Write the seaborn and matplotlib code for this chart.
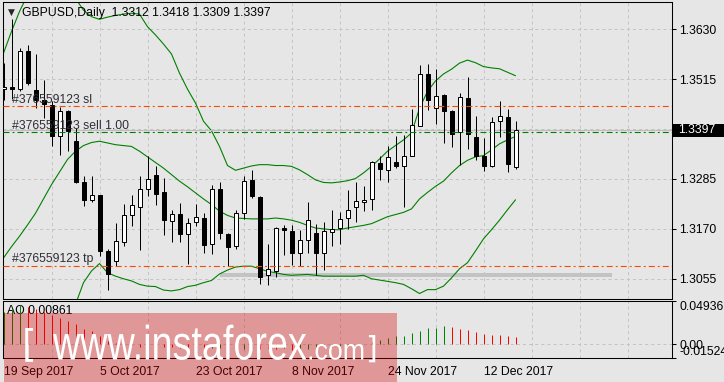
import numpy as np
import pandas as pd
import matplotlib
matplotlib.use("Agg")
import matplotlib.pyplot as plt
import matplotlib.transforms as mtransforms
from matplotlib.transforms import Affine2D
from matplotlib.patches import Rectangle
from matplotlib.patheffects import AbstractPathEffect
from matplotlib import font_manager
import seaborn as sns

# ---------------- data ----------------
chart_title = "GBPUSD,Daily  1.3312 1.3418 1.3309 1.3397"
opens = [1.3492, 1.3497, 1.3492, 1.3580, 1.3490, 1.3467, 1.3456, 1.3383, 1.3441, 1.3373,
         1.3277, 1.3236, 1.3247, 1.3119, 1.3096, 1.3139, 1.3203, 1.3221, 1.3262, 1.3295,
         1.3254, 1.3189, 1.3204, 1.3158, 1.3186, 1.3195, 1.3135, 1.3262, 1.3158, 1.3130,
         1.3207, 1.3283, 1.3244, 1.3063, 1.3073, 1.3172, 1.3166, 1.3115, 1.3145, 1.3161,
         1.3115, 1.3163, 1.3172, 1.3195, 1.3221, 1.3232, 1.3239, 1.3322, 1.3305, 1.3323,
         1.3314, 1.3339, 1.3406, 1.3527, 1.3448, 1.3479, 1.3442, 1.3393, 1.3471, 1.3381,
         1.3339, 1.3314, 1.3418, 1.3428, 1.3312]
highs = [1.3552, 1.3654, 1.3588, 1.3594, 1.3572, 1.3513, 1.3464, 1.3452, 1.3444, 1.3402,
         1.3291, 1.3293, 1.3249, 1.3124, 1.3184, 1.3228, 1.3249, 1.3291, 1.3337, 1.3314,
         1.3287, 1.3214, 1.3230, 1.3195, 1.3228, 1.3207, 1.3272, 1.3277, 1.3161, 1.3214,
         1.3291, 1.3306, 1.3245, 1.3135, 1.3174, 1.3180, 1.3178, 1.3168, 1.3231, 1.3182,
         1.3185, 1.3213, 1.3210, 1.3260, 1.3279, 1.3268, 1.3326, 1.3337, 1.3360, 1.3383,
         1.3387, 1.3447, 1.3548, 1.3550, 1.3539, 1.3481, 1.3444, 1.3483, 1.3520, 1.3431,
         1.3379, 1.3428, 1.3465, 1.3446, 1.3418]
lows = [1.3467, 1.3469, 1.3487, 1.3502, 1.3448, 1.3425, 1.3362, 1.3341, 1.3349, 1.3276,
        1.3222, 1.3232, 1.3107, 1.3029, 1.3084, 1.3130, 1.3176, 1.3122, 1.3245, 1.3226,
        1.3157, 1.3139, 1.3139, 1.3088, 1.3176, 1.3115, 1.3111, 1.3147, 1.3084, 1.3124,
        1.3193, 1.3240, 1.3043, 1.3040, 1.3059, 1.3109, 1.3086, 1.3084, 1.3115, 1.3063,
        1.3076, 1.3130, 1.3134, 1.3170, 1.3185, 1.3211, 1.3213, 1.3283, 1.3277, 1.3310,
        1.3221, 1.3337, 1.3406, 1.3444, 1.3412, 1.3369, 1.3358, 1.3318, 1.3355, 1.3329,
        1.3303, 1.3312, 1.3382, 1.3300, 1.3309]
closes = [1.3497, 1.3492, 1.3580, 1.3507, 1.3467, 1.3457, 1.3383, 1.3442, 1.3395, 1.3277,
          1.3236, 1.3249, 1.3119, 1.3067, 1.3143, 1.3203, 1.3224, 1.3262, 1.3285, 1.3250,
          1.3190, 1.3204, 1.3158, 1.3184, 1.3198, 1.3132, 1.3262, 1.3161, 1.3128, 1.3207,
          1.3281, 1.3245, 1.3060, 1.3078, 1.3172, 1.3167, 1.3115, 1.3145, 1.3191, 1.3115,
          1.3166, 1.3170, 1.3193, 1.3213, 1.3235, 1.3237, 1.3324, 1.3308, 1.3336, 1.3316,
          1.3339, 1.3410, 1.3527, 1.3466, 1.3477, 1.3441, 1.3389, 1.3474, 1.3389, 1.3337,
          1.3316, 1.3416, 1.3431, 1.3319, 1.3397]
bb_upper = [1.3575, 1.3625, 1.3671, 1.3709, 1.3728, 1.3740, 1.3743, 1.3736, 1.3720, 1.3701,
            1.3674, 1.3659, 1.3653, 1.3658, 1.3662, 1.3665, 1.3667, 1.3665, 1.3636, 1.3617,
            1.3596, 1.3573, 1.3529, 1.3492, 1.3460, 1.3418, 1.3396, 1.3360, 1.3316, 1.3305,
            1.3310, 1.3315, 1.3318, 1.3318, 1.3316, 1.3316, 1.3314, 1.3306, 1.3295, 1.3283,
            1.3277, 1.3276, 1.3278, 1.3281, 1.3286, 1.3299, 1.3314, 1.3331, 1.3349, 1.3362,
            1.3375, 1.3391, 1.3448, 1.3487, 1.3511, 1.3527, 1.3538, 1.3552, 1.3559, 1.3553,
            1.3544, 1.3541, 1.3539, 1.3531, 1.3523]
bb_middle = [1.3103, 1.3129, 1.3153, 1.3179, 1.3206, 1.3239, 1.3272, 1.3301, 1.3330, 1.3349,
             1.3362, 1.3369, 1.3372, 1.3368, 1.3364, 1.3362, 1.3360, 1.3349, 1.3336, 1.3323,
             1.3310, 1.3295, 1.3280, 1.3267, 1.3253, 1.3239, 1.3226, 1.3211, 1.3201, 1.3195,
             1.3194, 1.3193, 1.3193, 1.3193, 1.3195, 1.3193, 1.3190, 1.3185, 1.3178, 1.3172,
             1.3170, 1.3168, 1.3168, 1.3172, 1.3175, 1.3178, 1.3182, 1.3190, 1.3198, 1.3203,
             1.3208, 1.3216, 1.3239, 1.3254, 1.3268, 1.3280, 1.3299, 1.3316, 1.3328, 1.3336,
             1.3339, 1.3352, 1.3366, 1.3375, 1.3383]
bb_lower = [1.2632, 1.2628, 1.2636, 1.2649, 1.2684, 1.2738, 1.2800, 1.2866, 1.2940, 1.2996,
            1.3046, 1.3073, 1.3090, 1.3069, 1.3061, 1.3055, 1.3050, 1.3042, 1.3038, 1.3037,
            1.3029, 1.3027, 1.3030, 1.3037, 1.3040, 1.3046, 1.3051, 1.3066, 1.3075, 1.3082,
            1.3084, 1.3084, 1.3078, 1.3072, 1.3069, 1.3065, 1.3063, 1.3064, 1.3065, 1.3063,
            1.3061, 1.3061, 1.3061, 1.3061, 1.3061, 1.3063, 1.3055, 1.3052, 1.3049, 1.3046,
            1.3042, 1.3032, 1.3021, 1.3030, 1.3030, 1.3038, 1.3057, 1.3078, 1.3092, 1.3119,
            1.3147, 1.3168, 1.3190, 1.3214, 1.3237]
ao_values = [0.0368, 0.0398, 0.0443, 0.0428, 0.0398, 0.0368, 0.0331, 0.0293, 0.0267, 0.0229,
             0.0180, 0.0154, 0.0090, 0.0040, 0.0020, 0.0008, -0.0010, -0.0030, -0.0022, -0.0015,
             -0.0025, -0.0030, -0.0040, -0.0048, -0.0042, -0.0050, -0.0045, -0.0038, -0.0045, -0.0052,
             -0.0046, -0.0040, -0.0048, -0.0053, -0.0055, -0.0045, -0.0060, -0.0052, -0.0048, -0.0042,
             -0.0035, -0.0030, -0.0020, -0.0008, 0.0004, 0.0011, 0.0023, 0.0053, 0.0068, 0.0090,
             0.0098, 0.0124, 0.0147, 0.0184, 0.0190, 0.0210, 0.0199, 0.0177, 0.0165, 0.0143,
             0.0120, 0.0110, 0.0102, 0.0093, 0.00861]
ao_label = "AO 0.00861"
date_labels = ["19 Sep 2017", "5 Oct 2017", "23 Oct 2017", "8 Nov 2017", "24 Nov 2017", "12 Dec 2017"]
date_label_bars = [0, 12, 24, 36, 48, 60]
price_ticks = [1.3055, 1.3170, 1.3285, 1.3400, 1.3515, 1.3630]
price_tick_labels = ["1.3055", "1.3170", "1.3285", "", "1.3515", "1.3630"]
ao_ticks = [-0.01524, 0.0, 0.04936]
ao_tick_labels = ["-0.01524", "0.00", "0.04936"]
order_id = "#376559123"
sl_price = 1.3453
sell_price = 1.3393
tp_price = 1.3085
bid_price = 1.3397
bid_label = "1.3397"
zone_start, zone_end = 27, 76
zone_low, zone_high = 1.3059, 1.3069
watermark_main, watermark_tail = "www.instaforex", ".com"

# ---------------- style ----------------
BG = "#E6E6E6"
sns.set_style("white")
plt.rcParams["font.family"] = ["Liberation Sans", "DejaVu Sans"]
plt.rcParams["lines.scale_dashes"] = False
plt.rcParams["axes.linewidth"] = 0.75
FS = 8.8
PX = 0.72  # one pixel in points at 100 dpi


class VStretch(AbstractPathEffect):
    """Stretch glyphs vertically around their baseline (text stays a Text artist)."""

    def __init__(self, sy):
        super().__init__()
        self.sy = sy

    def draw_path(self, renderer, gc, tpath, affine, rgbFace=None):
        m = affine.get_matrix()
        tx, ty = m[0, 2], m[1, 2]
        extra = Affine2D().translate(-tx, -ty).scale(1.0, self.sy).translate(tx, ty)
        renderer.draw_path(gc, tpath, affine + extra, rgbFace)


W, H = 724, 382
fig = plt.figure(figsize=(W / 100, H / 100), dpi=100, facecolor=BG)
ax = fig.add_axes([2.5 / W, 83.5 / H, 669 / W, 296.5 / H], facecolor=BG)
ax2 = fig.add_axes([2.5 / W, 24 / H, 669 / W, 57.3 / H], facecolor=BG)

n = len(opens)
df = pd.DataFrame({"bar": np.arange(n), "open": opens, "high": highs, "low": lows, "close": closes,
                   "upper": bb_upper, "middle": bb_middle, "lower": bb_lower, "ao": ao_values})

grid_kw = dict(color="#C4C4C4", linewidth=PX, linestyle=(0, (2.2, 2.2)))
# bars land on pixel centres (8 px per bar) so 1-px lines stay crisp
xmin = -0.125
xmax = xmin + 669 / 8

# ---------------- main panel ----------------
ax.set_xlim(xmin, xmax)
ax.set_ylim(1.30095, 1.36929)
ax.set_xticks(np.arange(6, 84, 6))
ax.tick_params(axis="x", length=0, labelbottom=False)
ax.grid(True, axis="both", **grid_kw)
ax.set_axisbelow(True)
ax.yaxis.tick_right()
ax.set_yticks(price_ticks)
ax.set_yticklabels(price_tick_labels)
ax.tick_params(axis="y", length=3, width=0.75, pad=2.5, labelsize=FS, colors="black")
for s in ax.spines.values():
    s.set_color("black")
    s.set_linewidth(0.75)

# gray zone
ax.fill_between([zone_start, zone_end], zone_low, zone_high, color="#C3C3C3", lw=0, zorder=1)

# bollinger bands
for col in ["upper", "middle", "lower"]:
    sns.lineplot(data=df, x="bar", y=col, ax=ax, color="#008000", linewidth=0.8, legend=False, zorder=2)
ax.set_xlabel("")
ax.set_ylabel("")

# candles
up = df["close"] >= df["open"]
ax.vlines(df["bar"], df["low"], df["high"], color="black", linewidth=PX, zorder=3)
body_h = (df["close"] - df["open"]).abs().clip(lower=0.00002)
body_b = np.minimum(df["open"], df["close"])
ax.bar(df["bar"], body_h, bottom=body_b, width=0.5,
       color=np.where(up, "white", "black"), edgecolor="black", linewidth=PX, zorder=4)

# order / price lines
dashdot = (0, (4.3, 2.2, 1.4, 2.2))
ax.axhline(bid_price, color="#BDBDBD", linewidth=0.8, zorder=2)
ax.axhline(sl_price, color="#FF4500", linewidth=0.8, linestyle=dashdot, zorder=5)
ax.axhline(tp_price, color="#FF4500", linewidth=0.8, linestyle=dashdot, zorder=5)
ax.axhline(sell_price, color="#008000", linewidth=0.8, linestyle=dashdot, zorder=5)

blend = mtransforms.blended_transform_factory(ax.transAxes, ax.transData)
lab_x = (12 - 2.5) / 669
for price, txt in [(sl_price, order_id + " sl"), (sell_price, order_id + " sell 1.00"),
                   (tp_price, order_id + " tp")]:
    ax.annotate(txt, xy=(lab_x, price), xycoords=blend, xytext=(0, 4.7), textcoords="offset points",
                ha="left", va="center", fontsize=FS, color="#2E2E38", zorder=6)

# current price box
ax.add_patch(Rectangle((1.0, bid_price - 0.00155), 53 / 669, 0.0031, transform=blend,
                       facecolor="black", edgecolor="none", clip_on=False, zorder=6))
ax.text(1.0 + 6.5 / 669, bid_price, bid_label, transform=blend, ha="left", va="center",
        fontsize=FS, color="white", zorder=7, clip_on=False)

# title
fig.text(11 / W, 1 - 12.5 / H, "\u25BC", fontsize=6.5, family="DejaVu Sans", ha="center", va="center")
fig.text(22 / W, 1 - 12.7 / H, chart_title, fontsize=FS, ha="left", va="center", color="black")

# ---------------- AO panel ----------------
ax2.set_xlim(xmin, xmax)
ax2.set_ylim(ao_ticks[0], ao_ticks[-1])
prev = np.r_[-np.inf, df["ao"].values[:-1]]
ao_colors = np.where(df["ao"].values >= prev, "#008000", "#FF0000")
ax2.vlines(df["bar"], 0, df["ao"], colors=ao_colors, linewidth=PX, zorder=3)
ax2.set_xticks(date_label_bars)
ax2.set_xticklabels(date_labels)
ax2.set_xticks(np.arange(6, 84, 6), minor=True)
ax2.tick_params(axis="x", which="major", length=3, width=0.75, pad=2.5, labelsize=FS, colors="black")
ax2.tick_params(axis="x", which="minor", length=0)
for lbl in ax2.get_xticklabels():
    lbl.set_horizontalalignment("left")
ax2.xaxis.grid(True, which="minor", **grid_kw)
ax2.axhline(0, zorder=1, **grid_kw)
ax2.yaxis.tick_right()
ax2.set_yticks(ao_ticks)
ax2.set_yticklabels(ao_tick_labels)
ax2.tick_params(axis="y", length=3, width=0.75, pad=2.5, labelsize=FS, colors="black")
ylbls = ax2.get_yticklabels()
ylbls[0].set_verticalalignment("bottom")
ylbls[2].set_verticalalignment("top")
for s in ax2.spines.values():
    s.set_color("black")
    s.set_linewidth(0.75)
ax2.text((7 - 2.5) / 669, 0.82, ao_label, transform=ax2.transAxes, ha="left", va="center",
         fontsize=FS, color="black", zorder=2)

# ---------------- watermark ----------------
fig.patches.append(Rectangle((4 / W, 0), 393 / W, (H - 312.7) / H, transform=fig.transFigure,
                             facecolor="#D40000", alpha=0.34, edgecolor="none", zorder=10))
names = {f.name for f in font_manager.fontManager.ttflist}
wm_family = "Liberation Sans Narrow" if "Liberation Sans Narrow" in names else "Liberation Sans"
base_y = (H - 359.5) / H
renderer = fig.canvas.get_renderer()
t_main = fig.text(53 / W, base_y, watermark_main, fontsize=27, family=wm_family, color="white",
                  ha="left", va="baseline", zorder=11)
w_now = t_main.get_window_extent(renderer).width
size_main = 27 * 254 / w_now
t_main.set_fontsize(size_main)
xh_main = 0.519 * size_main * 100 / 72
t_main.set_path_effects([VStretch(max(1.0, 25.0 / xh_main))])
t_com = fig.text(307 / W, base_y, watermark_tail, fontsize=19, family=wm_family, color="white",
                 ha="left", va="baseline", zorder=11)
w_com = t_com.get_window_extent(renderer).width
size_com = 19 * 58 / w_com
t_com.set_fontsize(size_com)
xh_com = 0.519 * size_com * 100 / 72
t_com.set_path_effects([VStretch(max(1.0, 15.0 / xh_com))])
fig.text(29.5 / W, (H - 345) / H, "[", fontsize=27, family="DejaVu Sans", color="white",
         ha="center", va="center", zorder=11)
fig.text(371 / W, (H - 349) / H, "]", fontsize=22, family="DejaVu Sans", color="white",
         ha="center", va="center", zorder=11)

fig.savefig("out.png", dpi=100, facecolor=BG)
